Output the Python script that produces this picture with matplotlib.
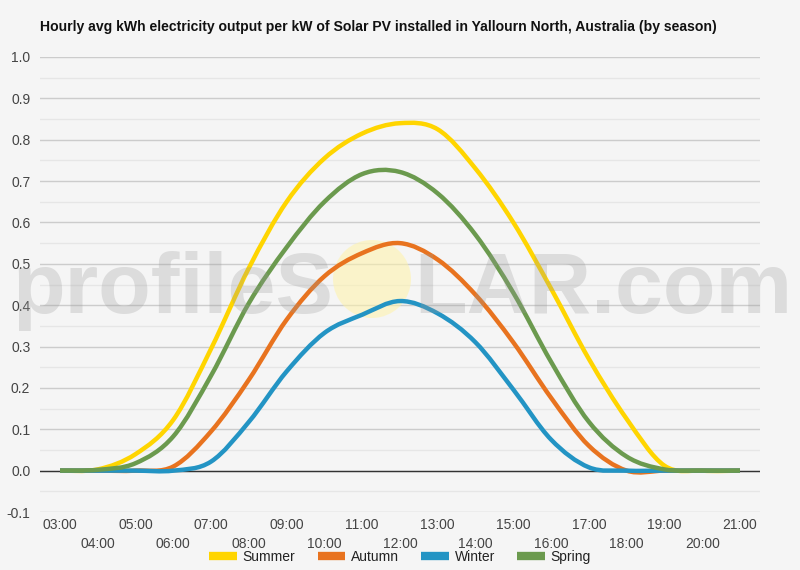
import matplotlib
matplotlib.use("Agg")
import matplotlib.pyplot as plt
from matplotlib.path import Path
from matplotlib.patches import PathPatch, Ellipse
from matplotlib.lines import Line2D
import numpy as np

plt.rcParams['font.family'] = ['Liberation Sans', 'DejaVu Sans']

hours = list(range(3, 22))
hour_labels = [f"{h:02d}:00" for h in hours]
summer = [0, 0.003, 0.04, 0.123, 0.295, 0.49, 0.65, 0.755, 0.815, 0.84, 0.825, 0.73, 0.60, 0.44, 0.27, 0.125, 0.012, 0, 0]
autumn = [0, 0, 0, 0.01, 0.095, 0.22, 0.365, 0.47, 0.526, 0.55, 0.51, 0.425, 0.31, 0.176, 0.06, 0.0, 0, 0, 0]
winter = [0, 0, 0, 0, 0.022, 0.118, 0.24, 0.333, 0.377, 0.41, 0.38, 0.31, 0.196, 0.075, 0.008, 0, 0, 0, 0]
spring = [0, 0.002, 0.018, 0.083, 0.23, 0.405, 0.54, 0.65, 0.717, 0.722, 0.67, 0.57, 0.43, 0.263, 0.118, 0.034, 0.003, 0, 0]
series_names = ["Summer", "Autumn", "Winter", "Spring"]
series_values = [summer, autumn, winter, spring]
colors = ["#FFD500", "#E8731F", "#2394C4", "#6B9A4E"]

BG = "#f5f5f5"
fig = plt.figure(figsize=(8, 5.7), dpi=100, facecolor=BG)
ax = fig.add_axes([40/800, 1-512/570, 720/800, 455/570], facecolor=BG)


def smooth_path(xs, ys):
    xs = np.asarray(xs, float)
    ys = np.asarray(ys, float)
    n = len(xs)
    verts = [(xs[0], ys[0])]
    codes = [Path.MOVETO]
    for i in range(n - 1):
        i0 = max(i - 1, 0)
        i3 = min(i + 2, n - 1)
        c1 = (xs[i] + (xs[i+1] - xs[i0]) / 6, ys[i] + (ys[i+1] - ys[i0]) / 6)
        c2 = (xs[i+1] - (xs[i3] - xs[i]) / 6, ys[i+1] - (ys[i3] - ys[i]) / 6)
        verts += [c1, c2, (xs[i+1], ys[i+1])]
        codes += [Path.CURVE4] * 3
    return Path(verts, codes)


for name, vals, c in zip(series_names, series_values, colors):
    p = PathPatch(smooth_path(hours, vals), facecolor='none', edgecolor=c,
                  lw=3.2, capstyle='butt', joinstyle='round', zorder=3)
    ax.add_patch(p)

ax.set_xlim(2.47, 21.53)
ax.set_ylim(-0.1, 1.0)
yt = np.round(np.arange(-0.1, 1.01, 0.1), 1)
ax.set_yticks(yt)
ax.set_yticklabels([f"{v:.1f}" for v in yt])
ax.set_yticks(np.round(np.arange(-0.05, 1.0, 0.1), 2), minor=True)
ax.grid(True, which='major', axis='y', color='#cccccc', lw=1, zorder=0)
ax.grid(True, which='minor', axis='y', color='#e6e6e6', lw=1, zorder=0)
ax.axhline(0, color='#333333', lw=1, zorder=2)
for s in ax.spines.values():
    s.set_visible(False)

ax.set_xticks(hours[0::2])
ax.set_xticklabels(hour_labels[0::2])
ax.set_xticks(hours[1::2], minor=True)
ax.set_xticklabels(hour_labels[1::2], minor=True)
ax.tick_params(axis='x', which='major', length=0, pad=4, labelsize=10, labelcolor='#444444')
ax.tick_params(axis='x', which='minor', length=0, pad=18, labelsize=10, labelcolor='#444444')
ax.tick_params(axis='y', which='both', length=0, pad=7, labelsize=10, labelcolor='#444444')

fig.text(40/800, 1-27/570, "Hourly avg kWh electricity output per kW of Solar PV installed in Yallourn North, Australia (by season)",
         fontsize=10.1, fontweight='bold', color='#111111', va='center', ha='left')

# watermark
circ = Ellipse((372/800, 1-279/570), 78/800, 78/570, transform=fig.transFigure,
               facecolor='#fff3a8', edgecolor='none', alpha=0.55, zorder=2)
ax.add_artist(circ)
circ.set_clip_on(False)
fig.text(333/800, 1-313/570, "profileS", fontsize=62, fontweight='bold', color='#999999', alpha=0.27,
         ha='right', va='baseline', zorder=10)
fig.text(414/800, 1-313/570, "LAR.com", fontsize=62, fontweight='bold', color='#999999', alpha=0.27,
         ha='left', va='baseline', zorder=10)

handles = [Line2D([], [], color=c, lw=6, solid_capstyle='butt') for c in colors]
leg = fig.legend(handles, series_names, loc='center', bbox_to_anchor=(400/800, 1-557/570),
                 ncol=4, frameon=False, fontsize=10, handlelength=2.0, handletextpad=0.4,
                 columnspacing=1.6, labelcolor='#222222')

fig.savefig("out.png", dpi=100, facecolor=BG)
